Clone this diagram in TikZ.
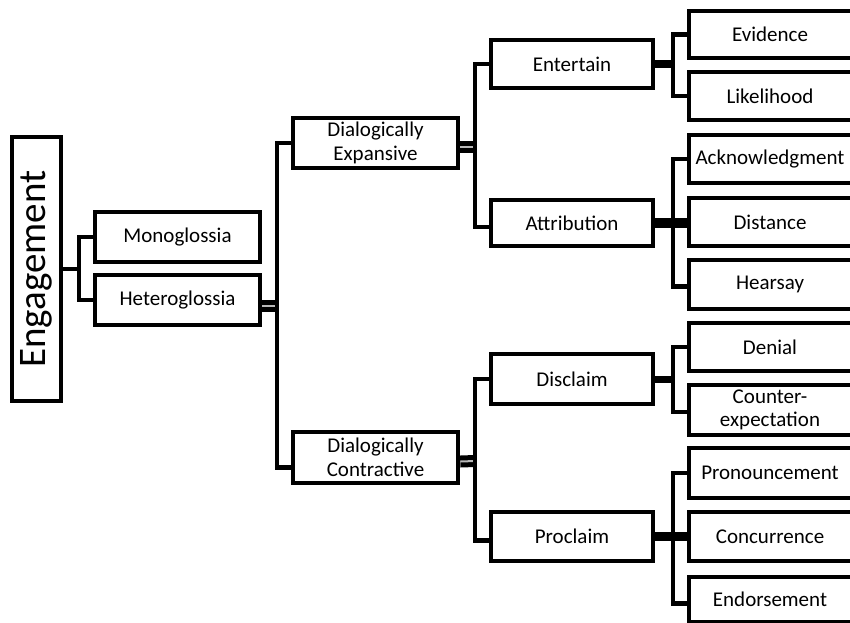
\documentclass[tikz,border=0pt]{standalone}
\usepackage{fontspec}
\setmainfont{Carlito}
\usetikzlibrary{calc}
\tikzset{
  lw/.style={line width=4.5pt},
  bx/.style={draw, lw, minimum width=165pt, minimum height=50pt, inner sep=0pt, align=center, font=\fontsize{21}{23.5}\selectfont},
  mbox/.style={bx, minimum width=162pt},
  rbox/.style={minimum width=162pt, minimum height=48pt, inner sep=0pt, align=center, font=\fontsize{21}{23.5}\selectfont},
  cn/.style={lw, line join=miter},
  dbl/.style={line width=5pt, double=gray!55, double distance=2pt},
}
\begin{document}
\begin{tikzpicture}[x=1pt,y=-1pt]
\useasboundingbox (0,0) rectangle (850,622);
\fill[white] (0,0) rectangle (850,622);
\clip (0,0) rectangle (850,622);

% level 0
\node[draw, lw, rotate=90, minimum width=264pt, minimum height=49pt, inner sep=0pt,
      font=\fontsize{39}{39}\selectfont] (eng) at (36.5,269) {Engagement};

% level 1
\node[bx] (mono) at (177.5,237) {Monoglossia};
\node[bx] (hetero) at (177.5,300) {Heteroglossia};

% level 2
\node[bx] (exp) at (375.5,143) {Dialogically\\Expansive};
\node[bx, minimum height=51pt] (con) at (375.5,457.5) {Dialogically\\Contractive};

% level 3
\node[mbox, minimum height=48pt] (ent) at (572,64) {Entertain};
\node[mbox, minimum height=46pt] (att) at (572,223) {Attribution};
\node[mbox] (dis) at (572,379) {Disclaim};
\node[mbox, minimum height=49pt] (pro) at (572,536.5) {Proclaim};

% level 4 (cut off at right edge)
\node[rbox, minimum height=47pt] (evi) at (770,34.5) {Evidence};
\node[rbox] (lik) at (770,96) {Likelihood};
\node[rbox] (ack) at (770,159) {Acknowledgment};
\node[rbox] (dst) at (770,222) {Distance};
\node[rbox, minimum height=49pt] (hea) at (770,284.5) {Hearsay};
\node[rbox] (den) at (770,347) {Denial};
\node[rbox, minimum height=50pt] (ctr) at (770,410) {Counter-\\expectation};
\node[rbox, minimum height=50pt] (prn) at (770,473) {Pronouncement};
\node[rbox, minimum height=49pt] (cnc) at (770,536.5) {Concurrence};
\node[rbox, minimum height=45pt] (end) at (770,599.5) {Endorsement};
\foreach \n in {evi,lik,ack,dst,hea,den,ctr,prn,cnc,end}
  \draw[lw] (\n.north west) rectangle ($(\n.south east)+(40,0)$);

% connectors
\coordinate (b1) at (79,269);
\draw[cn] (eng.south) -- (b1);
\draw[cn] (mono.west) -| (b1) |- (hetero.west);

\coordinate (b2) at (277,306);
\draw[dbl] ($(hetero.east)+(0,6)$) -- (b2);
\draw[cn] (exp.west) -| (b2) |- ($(con.west)+(0,10)$);

\coordinate (b3) at (475,147);
\draw[dbl] ($(exp.east)+(0,4)$) -- (b3);
\draw[cn] (ent.west) -| (b3) |- ($(att.west)+(0,4)$);

\coordinate (b4) at (475,461);
\draw[dbl] ($(con.east)+(0,4)$) -- (b4);
\draw[cn] (dis.west) -| (b4) |- ($(pro.west)+(0,4)$);

\coordinate (b5) at (673,64);
\draw[line width=8pt] (ent.east) -- (b5);
\draw[cn] (evi.west) -| (b5) |- (lik.west);

\coordinate (b6) at (673,223);
\draw[line width=10pt] (att.east) -- (att.east -| dst.west);
\draw[cn] (ack.west) -| (b6) |- ($(hea.west)+(0,2)$);

\coordinate (b7) at (673,379);
\draw[line width=7pt] (dis.east) -- (b7);
\draw[cn] (den.west) -| (b7) |- ($(ctr.west)+(0,2)$);

\coordinate (b8) at (673,536.5);
\draw[line width=9pt] (pro.east) -- (pro.east -| cnc.west);
\draw[cn] (prn.west) -| (b8) |- ($(end.west)+(0,4)$);
\end{tikzpicture}
\end{document}
